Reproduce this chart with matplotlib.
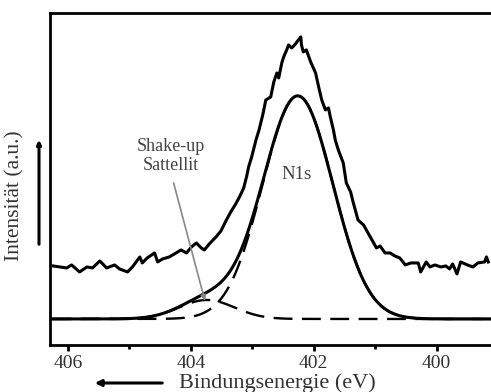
import numpy as np
import matplotlib.pyplot as plt

plt.rcParams['font.family'] = ['Liberation Serif', 'DejaVu Serif']

# measured N1s spectrum: binding energy (eV) and intensity (a.u.)
energy = [406.24, 406.13, 406.02, 405.94, 405.81, 405.69, 405.60, 405.48, 405.37, 405.24,
          405.16, 405.03, 404.95, 404.83, 404.79, 404.71, 404.59, 404.54, 404.46, 404.35,
          404.24, 404.16, 404.07, 403.99, 403.91, 403.83, 403.78, 403.70, 403.59, 403.51,
          403.43, 403.35, 403.27, 403.20, 403.14, 403.09, 403.06, 403.01, 402.94, 402.89,
          402.83, 402.78, 402.70, 402.65, 402.60, 402.57, 402.52, 402.49, 402.44, 402.41,
          402.36, 402.31, 402.25, 402.21, 402.20, 402.17, 402.12, 402.05, 401.97, 401.92,
          401.87, 401.81, 401.76, 401.73, 401.68, 401.65, 401.60, 401.52, 401.47, 401.40,
          401.36, 401.28, 401.19, 401.08, 400.98, 400.92, 400.84, 400.76, 400.68, 400.60,
          400.51, 400.42, 400.30, 400.26, 400.17, 400.11, 400.03, 399.93, 399.85, 399.79,
          399.74, 399.67, 399.61, 399.50, 399.41, 399.33, 399.22, 399.19, 399.16]
counts = [79, 78, 77, 80, 73, 78, 77, 84, 77, 80,
          76, 73, 78, 88, 82, 87, 92, 83, 86, 88,
          92, 95, 92, 98, 102, 97, 95, 101, 108, 114,
          124, 133, 141, 149, 157, 169, 178, 188, 205, 215,
          230, 245, 248, 263, 272, 267, 282, 288, 295, 300,
          297, 300, 305, 308, 300, 293, 295, 283, 272, 258,
          245, 235, 237, 228, 215, 205, 195, 182, 162, 153,
          143, 125, 120, 108, 97, 99, 92, 92, 89, 87,
          80, 82, 82, 73, 83, 78, 80, 78, 79, 76,
          81, 71, 83, 80, 78, 82, 83, 88, 83]

# fit: constant background + two Gaussian components
background = 26
n1s_center, n1s_height, n1s_sigma = 402.26, 223, 0.57
sat_center, sat_height, sat_sigma = 403.74, 19, 0.45

e_fit = np.linspace(406.25, 399.1, 400)
n1s = n1s_height * np.exp(-(e_fit - n1s_center) ** 2 / (2 * n1s_sigma ** 2))
sat = sat_height * np.exp(-(e_fit - sat_center) ** 2 / (2 * sat_sigma ** 2))

fig = plt.figure(figsize=(4.91, 3.92), dpi=100)
ax = fig.add_axes([0.102, 0.12, 0.9, 0.847])

ax.plot(energy, counts, color='k', lw=2.2)
ax.plot(e_fit, background + n1s + sat, color='k', lw=2.2)
ax.plot(e_fit, background + n1s, color='k', lw=1.7, ls=(0, (8, 4)))
ax.plot(e_fit, background + sat, color='k', lw=1.7, ls=(0, (8, 4)))

ax.set_xlim(406.29, 399.1)
ax.set_ylim(0, 332)
ax.set_xticks([406, 404, 402, 400])
ax.set_xticks([405, 403, 401], minor=True)
ax.set_yticks([])
ax.tick_params(axis='x', which='both', direction='out', width=2, length=4,
               labelsize=14, labelcolor='#333333', pad=3)
ax.tick_params(axis='x', which='minor', length=3)
for side in ['left', 'top', 'bottom']:
    ax.spines[side].set_linewidth(2)
ax.spines['right'].set_visible(False)

ax.text(404.32, 189, 'Shake-up\nSattellit', ha='center', va='center',
        fontsize=13, color='#444444', linespacing=1.1)
ax.annotate('', xy=(403.77, 44), xytext=(404.28, 162),
            arrowprops=dict(arrowstyle='-|>', color='#888888', lw=1.2,
                            mutation_scale=8, shrinkA=0, shrinkB=0))
ax.text(402.28, 170, 'N1s', ha='center', va='center', fontsize=13.5, color='#444444')

fig.text(0.565, 0.023, 'Bindungsenergie (eV)', ha='center', va='center',
         fontsize=16, color='#333333')
fig.text(0.03, 0.5, 'Intensität (a.u.)', ha='center', va='center',
         rotation=90, fontsize=15.5, color='#333333')

# direction arrows next to the axis labels
fig.patches.append(plt.matplotlib.patches.FancyArrowPatch(
    (165 / 491, 1 - 383 / 392), (92 / 491, 1 - 383 / 392), transform=fig.transFigure,
    arrowstyle='-|>', mutation_scale=9, lw=2.2, color='k'))
fig.patches.append(plt.matplotlib.patches.FancyArrowPatch(
    (39 / 491, 1 - 247 / 392), (39 / 491, 1 - 137 / 392), transform=fig.transFigure,
    arrowstyle='-|>', mutation_scale=6, lw=2.2, color='k'))

fig.savefig('out.png', dpi=100)
